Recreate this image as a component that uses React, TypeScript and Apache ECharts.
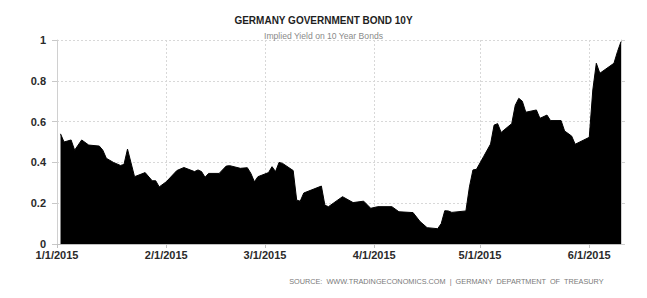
import React, { useEffect, useRef } from "react";
import * as echarts from "echarts";

const titleText = "GERMANY GOVERNMENT BOND 10Y";
const subtitleText = "Implied Yield on 10 Year Bonds";
const sourceText = "SOURCE:  WWW.TRADINGECONOMICS.COM  |  GERMANY  DEPARTMENT  OF  TREASURY";

const dates: string[] = [
  "2015-01-02", "2015-01-03", "2015-01-05", "2015-01-06", "2015-01-08", "2015-01-10",
  "2015-01-13", "2015-01-14", "2015-01-15", "2015-01-17", "2015-01-19", "2015-01-20",
  "2015-01-21", "2015-01-23", "2015-01-26", "2015-01-28", "2015-01-29", "2015-01-30",
  "2015-02-01", "2015-02-04", "2015-02-06", "2015-02-09", "2015-02-10", "2015-02-11",
  "2015-02-12", "2015-02-13", "2015-02-16", "2015-02-18", "2015-02-19", "2015-02-22",
  "2015-02-24", "2015-02-25", "2015-02-26", "2015-02-27", "2015-03-02", "2015-03-03",
  "2015-03-04", "2015-03-05", "2015-03-06", "2015-03-09", "2015-03-10", "2015-03-11",
  "2015-03-12", "2015-03-17", "2015-03-18", "2015-03-19", "2015-03-23", "2015-03-26",
  "2015-03-29", "2015-03-31", "2015-04-02", "2015-04-06", "2015-04-08", "2015-04-12",
  "2015-04-14", "2015-04-16", "2015-04-19", "2015-04-20", "2015-04-21", "2015-04-22",
  "2015-04-23", "2015-04-27", "2015-04-28", "2015-04-29", "2015-04-30", "2015-05-02",
  "2015-05-04", "2015-05-05", "2015-05-06", "2015-05-07", "2015-05-10", "2015-05-11",
  "2015-05-12", "2015-05-13", "2015-05-14", "2015-05-17", "2015-05-18", "2015-05-20",
  "2015-05-21", "2015-05-24", "2015-05-25", "2015-05-27", "2015-05-28", "2015-06-01",
  "2015-06-02", "2015-06-03", "2015-06-04", "2015-06-08", "2015-06-09", "2015-06-10",
];

const yields: number[] = [
  0.54, 0.50, 0.51, 0.46, 0.51, 0.485,
  0.48, 0.46, 0.42, 0.40, 0.385, 0.39,
  0.465, 0.33, 0.35, 0.31, 0.31, 0.28,
  0.305, 0.36, 0.375, 0.355, 0.363, 0.355,
  0.327, 0.346, 0.346, 0.382, 0.384, 0.371,
  0.374, 0.346, 0.305, 0.33, 0.35, 0.379,
  0.355, 0.40, 0.395, 0.36, 0.215, 0.21,
  0.25, 0.284, 0.19, 0.183, 0.232, 0.203,
  0.21, 0.175, 0.183, 0.183, 0.158, 0.154,
  0.11, 0.08, 0.075, 0.10, 0.163, 0.162,
  0.155, 0.162, 0.28, 0.363, 0.366, 0.428,
  0.49, 0.583, 0.59, 0.547, 0.59, 0.68,
  0.714, 0.70, 0.646, 0.657, 0.616, 0.632,
  0.605, 0.605, 0.554, 0.529, 0.489, 0.523,
  0.755, 0.886, 0.837, 0.886, 0.943, 0.992,
];

const xMin = "2015-01-01";
const xMax = "2015-06-10";

const DAY = 86400000;

function toTime(s: string): number {
  const [y, m, d] = s.split("-").map(Number);
  return new Date(y, m - 1, d).getTime();
}

function fmtDate(v: number): string {
  const d = new Date(v);
  return `${d.getMonth() + 1}/${d.getDate()}/${d.getFullYear()}`;
}

export default function App() {
  const ref = useRef<HTMLDivElement>(null);
  useEffect(() => {
    if (!ref.current) return;
    const chart = echarts.init(ref.current, undefined, { renderer: "svg" });
    const option: any = {
      animation: false,
      backgroundColor: "#ffffff",
      title: {
        text: titleText,
        subtext: subtitleText,
        left: "center",
        top: 10,
        itemGap: 6,
        textStyle: {
          fontFamily: "Liberation Sans",
          fontSize: 10,
          fontWeight: "bold",
          color: "#1e1e1e",
        },
        subtextStyle: {
          fontFamily: "Liberation Sans",
          fontSize: 8.6,
          color: "#8a8a8a",
        },
      },
      grid: { left: 57, right: 26, top: 40, bottom: 54, containLabel: false },
      xAxis: {
        type: "time",
        min: toTime(xMin),
        max: toTime(xMax),
        minInterval: 28 * DAY,
        maxInterval: 31 * DAY,
        splitNumber: 6,
        axisLine: { show: true, lineStyle: { color: "#c0c0c0", width: 1 } },
        axisTick: {
          show: true,
          length: 4,
          lineStyle: { color: "#c0c0c0" },
        },
        axisLabel: {
          formatter: (v: number) => fmtDate(v),
          fontFamily: "Liberation Sans",
          fontSize: 11,
          fontWeight: "bold",
          color: "#2a2a2a",
          margin: 5,
          hideOverlap: false,
        },
        splitLine: {
          show: true,
          lineStyle: { color: "#d8d8d8", type: [2, 2], width: 1 },
        },
      },
      yAxis: [
        {
          type: "value",
          min: 0,
          max: 1,
          interval: 0.2,
          axisLine: { show: true, lineStyle: { color: "#d0d0d0" } },
          axisTick: { show: true, length: 5, lineStyle: { color: "#c8c8c8" } },
          axisLabel: {
            fontFamily: "Liberation Sans",
            fontSize: 11,
            fontWeight: "bold",
            color: "#2a2a2a",
            margin: 11,
            formatter: (v: number) => String(Math.round(v * 10) / 10),
          },
          splitLine: {
            show: true,
            lineStyle: { color: "#d8d8d8", type: [2, 2], width: 1 },
          },
        },
        {
          type: "value",
          min: 0,
          max: 1,
          interval: 0.2,
          position: "right",
          axisLine: { show: true, lineStyle: { color: "#d0d0d0" } },
          axisTick: { show: true, length: 4, lineStyle: { color: "#d0d0d0" } },
          axisLabel: { show: false },
          splitLine: { show: false },
        },
      ],
      graphic: [
        {
          type: "text",
          right: 43,
          top: 278,
          style: {
            text: sourceText,
            fontFamily: "Liberation Sans",
            fontSize: 7.3,
            fill: "#7a7a7a",
          },
        },
      ],
      series: [
        {
          type: "line",
          data: dates.map((d, i) => [toTime(d), yields[i]]),
          symbol: "none",
          lineStyle: { color: "#000000", width: 1 },
          areaStyle: { color: "#000000", opacity: 1 },
          itemStyle: { color: "#000000" },
          silent: true,
        },
      ],
    };
    chart.setOption(option);
    return () => chart.dispose();
  }, []);
  return (
    <div
      ref={ref}
      style={{ position: "absolute", left: 0, top: 0, width: 647, height: 298 }}
    />
  );
}
